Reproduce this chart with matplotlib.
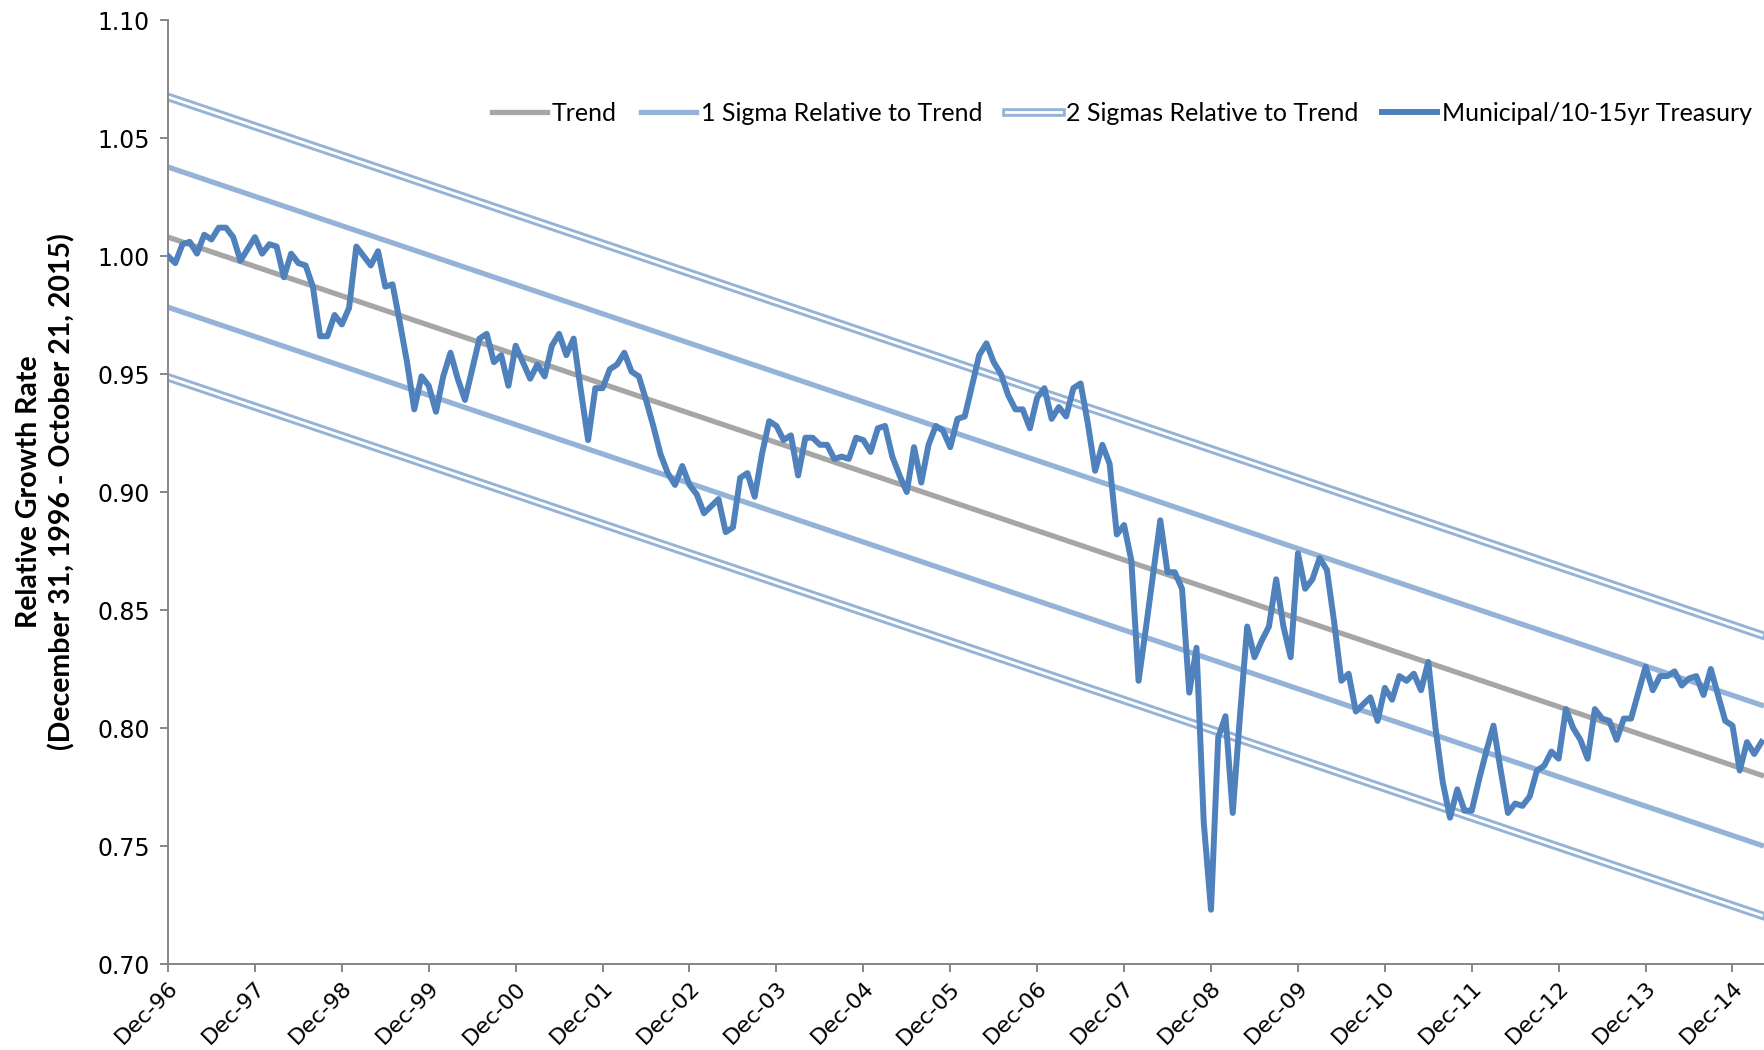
import matplotlib
matplotlib.use('Agg')
import matplotlib.pyplot as plt
import matplotlib.patheffects as pe
import numpy as np

# ---------------- data ----------------
tick_labels = ['Dec-96', 'Dec-97', 'Dec-98', 'Dec-99', 'Dec-00', 'Dec-01', 'Dec-02',
               'Dec-03', 'Dec-04', 'Dec-05', 'Dec-06', 'Dec-07', 'Dec-08', 'Dec-09',
               'Dec-10', 'Dec-11', 'Dec-12', 'Dec-13', 'Dec-14']

# monthly Municipal / 10-15yr Treasury relative growth (from Dec-96)
municipal = [
    1.000, 0.997, 1.005, 1.006, 1.001, 1.009, 1.007, 1.012, 1.012, 1.008, 0.998, 1.003,
    1.008, 1.001, 1.005, 1.004, 0.991, 1.001, 0.997, 0.996, 0.987, 0.966, 0.966, 0.975,
    0.971, 0.978, 1.004, 1.000, 0.996, 1.002, 0.987, 0.988, 0.972, 0.955, 0.935, 0.949,
    0.945, 0.934, 0.949, 0.959, 0.948, 0.939, 0.952, 0.965, 0.967, 0.955, 0.958, 0.945,
    0.962, 0.955, 0.948, 0.954, 0.949, 0.962, 0.967, 0.958, 0.965, 0.943, 0.922, 0.944,
    0.944, 0.952, 0.954, 0.959, 0.951, 0.949, 0.939, 0.928, 0.916, 0.908, 0.903, 0.911,
    0.903, 0.899, 0.891, 0.894, 0.897, 0.883, 0.885, 0.906, 0.908, 0.898, 0.916, 0.930,
    0.928, 0.922, 0.924, 0.907, 0.923, 0.923, 0.920, 0.920, 0.914, 0.915, 0.914, 0.923,
    0.922, 0.917, 0.927, 0.928, 0.915, 0.907, 0.900, 0.919, 0.904, 0.920, 0.928, 0.926,
    0.919, 0.931, 0.932, 0.945, 0.958, 0.963, 0.955, 0.950, 0.941, 0.935, 0.935, 0.927,
    0.940, 0.944, 0.931, 0.936, 0.932, 0.944, 0.946, 0.929, 0.909, 0.920, 0.912, 0.882,
    0.886, 0.871, 0.820, 0.842, 0.865, 0.888, 0.866, 0.866, 0.859, 0.815, 0.834, 0.760,
    0.723, 0.796, 0.805, 0.764, 0.805, 0.843, 0.830, 0.837, 0.843, 0.863, 0.843, 0.830,
    0.874, 0.859, 0.863, 0.872, 0.867, 0.845, 0.820, 0.823, 0.807, 0.810, 0.813, 0.803,
    0.817, 0.812, 0.822, 0.820, 0.823, 0.816, 0.828, 0.800, 0.777, 0.762, 0.774, 0.765,
    0.765, 0.778, 0.790, 0.801, 0.782, 0.764, 0.768, 0.767, 0.771, 0.782, 0.784, 0.790,
    0.787, 0.808, 0.800, 0.795, 0.787, 0.808, 0.804, 0.803, 0.795, 0.804, 0.804, 0.815,
    0.826, 0.816, 0.822, 0.822, 0.824, 0.818, 0.821, 0.822, 0.814, 0.825, 0.814, 0.803,
    0.801, 0.782, 0.794, 0.789, 0.794,
]

trend_start = 1.008   # trend value at Dec-96
trend_end = 0.780     # trend value at last month
sigma = 0.0297        # one standard deviation around trend

# ---------------- styling ----------------
C_MUNI = '#4F81BD'
C_SIG = '#95B3D7'
C_TREND = '#A6A6A6'
C_AXIS = '#868686'

fig = plt.figure(figsize=(17.64, 10.5), dpi=100)
ax = fig.add_axes([168/1764, 86/1050, (1764-168)/1764, 944/1050])

months = np.arange(len(municipal))
tx = [months[0], months[-1]]
trend = np.array([trend_start, trend_end])

ax.plot(tx, trend, color=C_TREND, lw=3.8, zorder=2, label='Trend')
ax.plot(tx, trend + sigma, color=C_SIG, lw=3.8, zorder=2, label='1 Sigma Relative to Trend')
ax.plot(tx, trend - sigma, color=C_SIG, lw=3.8, zorder=2)
dbl = [pe.Stroke(linewidth=6.2, foreground=C_SIG), pe.Normal()]
ax.plot(tx, trend + 2 * sigma, color='white', lw=2.0, zorder=2, path_effects=dbl,
        label='2 Sigmas Relative to Trend')
ax.plot(tx, trend - 2 * sigma, color='white', lw=2.0, zorder=2, path_effects=dbl)
ax.plot(months, municipal, color=C_MUNI, lw=4.3, zorder=3, solid_joinstyle='round',
        label='Municipal/10-15yr Treasury')

ax.set_xlim(0, 1596 / 7.243)
ax.set_ylim(0.70, 1.10)
yt = np.arange(0.70, 1.1001, 0.05)
ax.set_yticks(yt)
ax.set_yticklabels([f'{v:.2f}' for v in yt])
ax.set_xticks(np.arange(0, 12 * len(tick_labels), 12))
ax.set_xticklabels(tick_labels, rotation=45, ha='right', va='top', rotation_mode='anchor')

for s in ['top', 'right']:
    ax.spines[s].set_visible(False)
for s in ['left', 'bottom']:
    ax.spines[s].set_color(C_AXIS)
    ax.spines[s].set_linewidth(1.4)
ax.tick_params(axis='both', direction='out', length=6, width=1.4, color=C_AXIS,
               labelcolor='black')
ax.tick_params(axis='y', pad=7, labelsize=17)
ax.tick_params(axis='x', pad=4, labelsize=16)
for lab in ax.get_xticklabels() + ax.get_yticklabels():
    lab.set_family('DejaVu Sans')

leg = ax.legend(loc='center right', bbox_to_anchor=(0.9925, 0.901), ncol=4, frameon=False,
                prop={'family': 'Lato', 'size': 18}, handlelength=2.2, handletextpad=0.2,
                columnspacing=0.95, borderaxespad=0, borderpad=0)

fig.text(46 / 1764, 1 - 492 / 1050,
         'Relative Growth Rate\n(December 31, 1996 - October 21, 2015)',
         rotation=90, ha='center', va='center', multialignment='center',
         fontsize=20.5, fontweight='bold', family='Lato', linespacing=1.3)

fig.savefig('out.png', dpi=100)
